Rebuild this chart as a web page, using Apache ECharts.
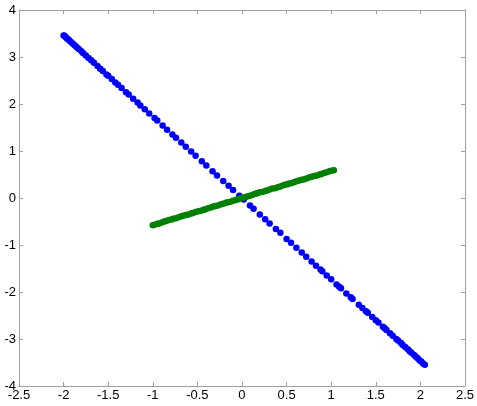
<!DOCTYPE html>
<html>
<head>
<meta charset="utf-8">
<script src="https://cdn.jsdelivr.net/npm/echarts@6/dist/echarts.min.js"></script>
<style>
  html, body, #main { width: 477px; height: 406px; margin: 0; background: #fff; }
</style>
</head>
<body>
<div id="main"></div>
<script>
// blue points: [x, y]
const bluePoints = [
  [-2.00, 3.46], [-1.99, 3.45], [-1.975, 3.42], [-1.96, 3.39], [-1.945, 3.37],
  [-1.93, 3.34], [-1.91, 3.31], [-1.89, 3.27], [-1.87, 3.24], [-1.85, 3.20],
  [-1.83, 3.17], [-1.80, 3.12], [-1.78, 3.08], [-1.75, 3.03], [-1.72, 2.98],
  [-1.69, 2.93], [-1.66, 2.88], [-1.62, 2.81], [-1.59, 2.75], [-1.56, 2.70],
  [-1.52, 2.63], [-1.50, 2.60], [-1.46, 2.53], [-1.42, 2.46], [-1.39, 2.41],
  [-1.35, 2.34], [-1.30, 2.25], [-1.27, 2.20], [-1.22, 2.11], [-1.17, 2.03],
  [-1.14, 1.97], [-1.09, 1.89], [-1.04, 1.80], [-0.98, 1.70], [-0.95, 1.65],
  [-0.89, 1.54], [-0.84, 1.45], [-0.78, 1.35], [-0.74, 1.28], [-0.68, 1.18],
  [-0.63, 1.09], [-0.57, 0.99], [-0.52, 0.90], [-0.45, 0.78], [-0.40, 0.69],
  [-0.33, 0.57], [-0.28, 0.48], [-0.21, 0.36], [-0.15, 0.26], [-0.10, 0.17],
  [-0.03, 0.05], [0.02, -0.03], [0.09, -0.16], [0.13, -0.23], [0.20, -0.35],
  [0.26, -0.45], [0.31, -0.54], [0.38, -0.66], [0.43, -0.74], [0.50, -0.87],
  [0.55, -0.95], [0.61, -1.06], [0.67, -1.16], [0.72, -1.25], [0.78, -1.35],
  [0.83, -1.44], [0.88, -1.52], [0.90, -1.56], [0.95, -1.65], [1.00, -1.73],
  [1.06, -1.84], [1.09, -1.89], [1.11, -1.92], [1.17, -2.03], [1.22, -2.11],
  [1.24, -2.15], [1.31, -2.27], [1.35, -2.34], [1.39, -2.41], [1.41, -2.44],
  [1.46, -2.53], [1.50, -2.60], [1.53, -2.65], [1.58, -2.74], [1.60, -2.77],
  [1.62, -2.81], [1.66, -2.88], [1.69, -2.93], [1.73, -3.00], [1.75, -3.03],
  [1.78, -3.08], [1.80, -3.12], [1.83, -3.17], [1.86, -3.22], [1.88, -3.26],
  [1.90, -3.29], [1.93, -3.34], [1.95, -3.38], [1.97, -3.41], [1.99, -3.45],
  [2.01, -3.48], [2.03, -3.52], [2.05, -3.55]
]

// green points: [x, y]
const greenPoints = [
  [-1.00, -0.58], [-0.98, -0.57], [-0.95, -0.55], [-0.93, -0.54], [-0.90, -0.52],
  [-0.87, -0.50], [-0.85, -0.49], [-0.82, -0.47], [-0.79, -0.46], [-0.77, -0.44],
  [-0.74, -0.43], [-0.71, -0.41], [-0.68, -0.39], [-0.66, -0.38], [-0.63, -0.36],
  [-0.60, -0.35], [-0.57, -0.33], [-0.55, -0.32], [-0.52, -0.30], [-0.49, -0.28],
  [-0.46, -0.27], [-0.43, -0.25], [-0.41, -0.24], [-0.38, -0.22], [-0.35, -0.20],
  [-0.32, -0.18], [-0.30, -0.17], [-0.27, -0.16], [-0.24, -0.14], [-0.21, -0.12],
  [-0.18, -0.10], [-0.16, -0.09], [-0.13, -0.08], [-0.10, -0.06], [-0.07, -0.04],
  [-0.05, -0.03], [-0.02, -0.01], [0.01, 0.01], [0.04, 0.02], [0.06, 0.03],
  [0.09, 0.05], [0.12, 0.07], [0.15, 0.09], [0.17, 0.10], [0.20, 0.12],
  [0.23, 0.13], [0.26, 0.15], [0.28, 0.16], [0.31, 0.18], [0.34, 0.20],
  [0.37, 0.21], [0.40, 0.23], [0.42, 0.24], [0.45, 0.26], [0.48, 0.28],
  [0.51, 0.29], [0.53, 0.31], [0.56, 0.32], [0.59, 0.34], [0.62, 0.36],
  [0.65, 0.38], [0.67, 0.39], [0.70, 0.40], [0.73, 0.42], [0.76, 0.44],
  [0.78, 0.45], [0.81, 0.47], [0.84, 0.48], [0.87, 0.50], [0.89, 0.51],
  [0.92, 0.53], [0.95, 0.55], [0.98, 0.57], [1.00, 0.58], [1.03, 0.59]
]

const xRange = [-2.5, 2.5, 0.5]
const yRange = [-4, 4, 1]

const frameColor = '#a0a0a0'
const font = 'Liberation Sans'

const baseAxis = (range, pos, labels) => ({
  type: 'value',
  position: pos,
  min: range[0],
  max: range[1],
  interval: range[2],
  splitLine: { show: false },
  axisLine: { show: true, onZero: false, lineStyle: { color: frameColor, width: 1 } },
  axisTick: { show: true, inside: true, length: 4, lineStyle: { color: frameColor } },
  axisLabel: {
    show: labels,
    color: '#000',
    fontFamily: font,
    fontSize: 13,
    margin: 3,
    showMinLabel: true,
    showMaxLabel: true
  }
})

const chart = echarts.init(document.getElementById('main'), null, { renderer: 'canvas' })
chart.setOption({
  backgroundColor: '#fff',
  animation: false,
  grid: { left: 19, top: 10, right: 11, bottom: 20, containLabel: false },
  xAxis: [baseAxis(xRange, 'bottom', true), baseAxis(xRange, 'top', false)],
  yAxis: [baseAxis(yRange, 'left', true), baseAxis(yRange, 'right', false)],
  series: [
    {
      type: 'scatter',
      data: bluePoints,
      symbolSize: 6.5,
      itemStyle: { color: '#0000ff', opacity: 1 }
    },
    {
      type: 'scatter',
      data: greenPoints,
      symbolSize: 6.5,
      itemStyle: { color: '#008000', opacity: 1 }
    }
  ]
})
</script>
</body>
</html>
